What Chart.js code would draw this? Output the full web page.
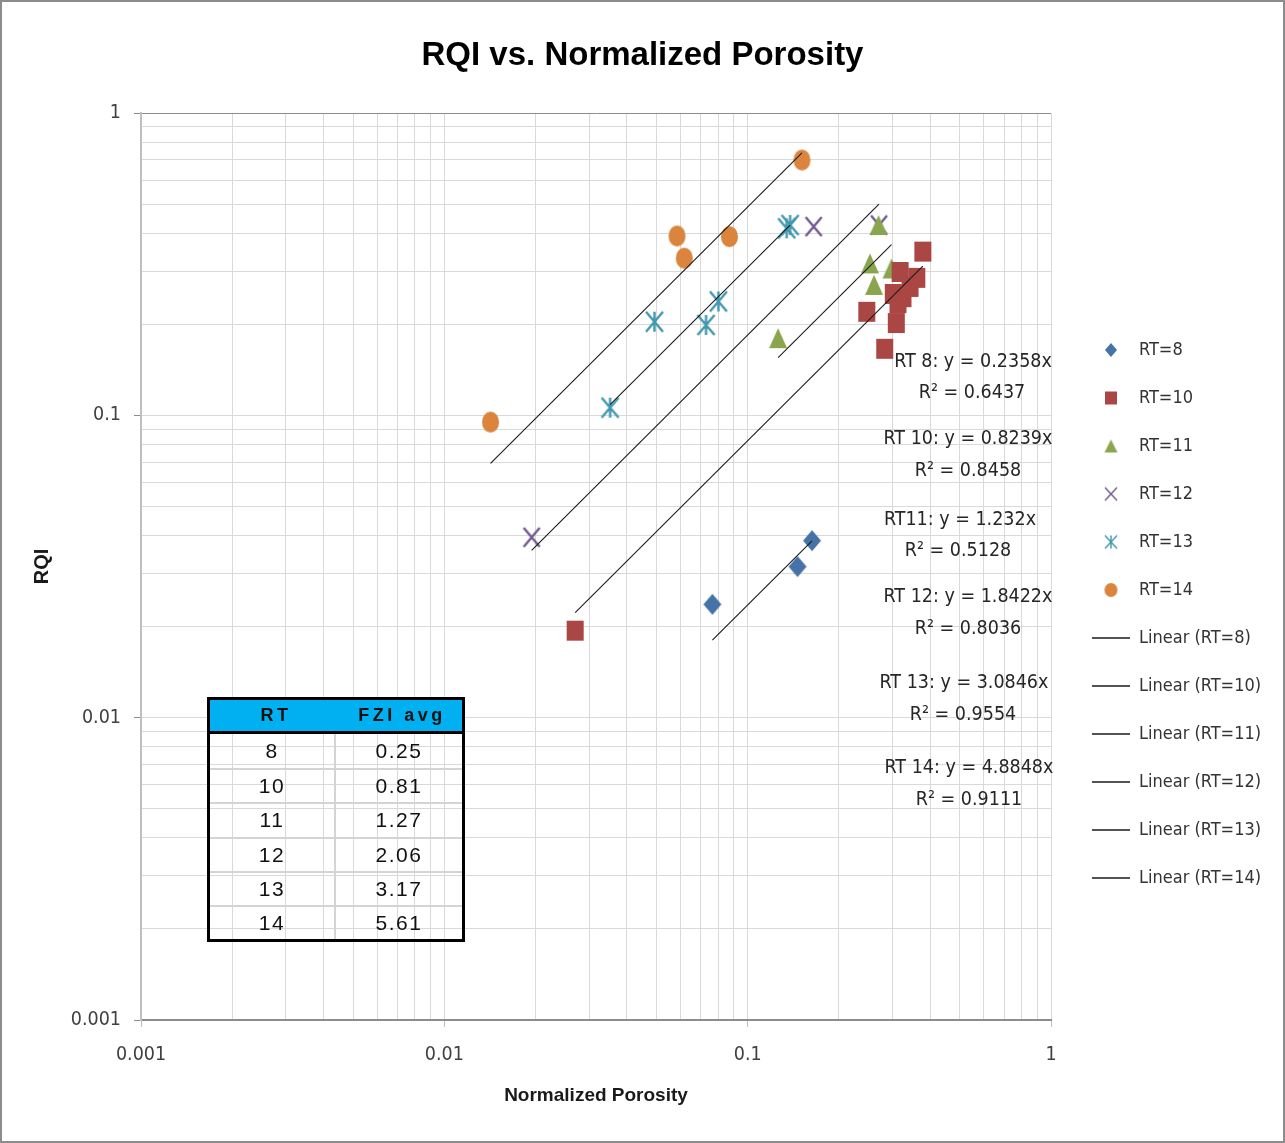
<!DOCTYPE html>
<html>
<head>
<meta charset="utf-8">
<title>RQI vs. Normalized Porosity</title>
<script src="https://cdn.jsdelivr.net/npm/chart.js@4.4.1/dist/chart.umd.min.js"></script>
<style>
  html, body { margin: 0; padding: 0; background: #fff; overflow: hidden; }
  #wrap { position: relative; width: 1285px; height: 1143px; }
  #chart { position: absolute; left: 0; top: 0; }
  #frame { position: absolute; left: 0; top: 0; width: 1285px; height: 1143px; box-sizing: border-box;
           border: 2px solid #8c8c8c; pointer-events: none; }
  #fzi { position: absolute; left: 207px; top: 697px; width: 258px; height: 245px; box-sizing: border-box;
         border: 3px solid #000; font-family: "Liberation Sans", Arial, sans-serif; color: #111; }
  #fzi .row { display: flex; height: 34.2px; box-sizing: border-box; }
  #fzi .row + .row { border-top: 2px solid #d4d4d4; }
  #fzi .row div { display: flex; align-items: center; justify-content: center; font-size: 21px; letter-spacing: 1.5px; }
  #fzi .row div:first-child { width: 124px; }
  #fzi .row div:last-child { flex: 1; border-left: 2px solid #d4d4d4; }
  #fzi .head { display: flex; height: 34px; background: #00b0f0; border-bottom: 3px solid #000; box-sizing: border-box; }
  #fzi .head div { display: flex; align-items: center; justify-content: center; font-weight: bold; font-size: 18px;
                   letter-spacing: 3.5px; padding-left: 3px; }
  #fzi .head div:first-child { width: 126px; }
  #fzi .head div:last-child { flex: 1; }
</style>
</head>
<body>
<div id="wrap">
  <canvas id="chart" width="1285" height="1143"></canvas>
  <div id="fzi"></div>
  <div id="frame"></div>
</div>
<script>
// measured points per rock type (normalized porosity, RQI)
const seriesNames = ['RT=8', 'RT=10', 'RT=11', 'RT=12', 'RT=13', 'RT=14'];

const rt8X = [0.0765, 0.146, 0.163];
const rt8Y = [0.0237, 0.0316, 0.0385];

const rt10X = [0.0270, 0.247, 0.283, 0.309, 0.378, 0.302, 0.318, 0.325, 0.343, 0.361, 0.313];
const rt10Y = [0.0194, 0.220, 0.166, 0.202, 0.348, 0.252, 0.298, 0.246, 0.266, 0.285, 0.235];

const rt11X = [0.126, 0.270, 0.253, 0.298, 0.261];
const rt11Y = [0.180, 0.426, 0.318, 0.306, 0.270];

const rt12X = [0.0194, 0.165, 0.271];
const rt12Y = [0.0395, 0.421, 0.426];

const rt13X = [0.0352, 0.0493, 0.0729, 0.0801, 0.1345, 0.138];
const rt13Y = [0.106, 0.204, 0.199, 0.238, 0.4155, 0.426];

const rt14X = [0.0142, 0.0585, 0.0618, 0.0871, 0.151];
const rt14Y = [0.095, 0.392, 0.331, 0.390, 0.699];

// linear fits through the origin
const trendTags = ['RT 8', 'RT 10', 'RT11', 'RT 12', 'RT 13', 'RT 14'];
const trendSlopes = [0.2358, 0.8239, 1.232, 1.8422, 3.0846, 4.8848];
const trendR2 = ['0.6437', '0.8458', '0.5128', '0.8036', '0.9554', '0.9111'];

const xTickLabels = ['0.001', '0.01', '0.1', '1'];
const yTickLabels = ['0.001', '0.01', '0.1', '1'];
const decades = [0.001, 0.01, 0.1];
const minorSteps = [1, 2, 3, 4, 5, 6, 7, 8, 9];

// FZI summary table
const tableRt = [8, 10, 11, 12, 13, 14];
const tableFzi = ['0.25', '0.81', '1.27', '2.06', '3.17', '5.61'];

const seriesX = [rt8X, rt10X, rt11X, rt12X, rt13X, rt14X];
const seriesY = [rt8Y, rt10Y, rt11Y, rt12Y, rt13Y, rt14Y];
const seriesColors = ['#4572a7', '#aa4643', '#89a54e', '#71588f', '#4198af', '#db843d'];
const seriesShapes = ['diamond', 'square', 'triangle', 'cross', 'asterisk', 'circle'];

const NARROW = '"DejaVu Sans Condensed", "Liberation Sans", sans-serif';
const WIDE = '"Liberation Sans", Arial, sans-serif';

// plot box edges and legend geometry
const PLOT_LEFT = 141;
const PLOT_RIGHT = 1051;
const CANVAS_W = 1285;
const LEGEND_FONT = 18;
const LEGEND_PAD = 30;
const LEGEND_LINE = 38;
const LEGEND_X = 1092;

function markerSprite(shape, w, h, color, lw) {
  const pad = 2;
  const c = document.createElement('canvas');
  c.width = w + pad * 2;
  c.height = h + pad * 2;
  const g = c.getContext('2d');
  g.translate(pad, pad);
  g.fillStyle = color;
  g.strokeStyle = color;
  g.lineWidth = lw;
  g.beginPath();
  if (shape === 'diamond') {
    g.moveTo(w / 2, 0); g.lineTo(w, h / 2); g.lineTo(w / 2, h); g.lineTo(0, h / 2);
    g.closePath(); g.fill();
  } else if (shape === 'square') {
    g.rect(0, 0, w, h); g.fill();
  } else if (shape === 'triangle') {
    g.moveTo(w / 2, 0); g.lineTo(w, h); g.lineTo(0, h);
    g.closePath(); g.fill();
  } else if (shape === 'circle') {
    g.ellipse(w / 2, h / 2, w / 2, h / 2, 0, 0, Math.PI * 2); g.fill();
  } else {
    g.moveTo(0, 0); g.lineTo(w, h); g.moveTo(w, 0); g.lineTo(0, h);
    if (shape === 'asterisk') { g.moveTo(w / 2, 0); g.lineTo(w / 2, h); }
    g.stroke();
  }
  return c;
}

const plotSize = { diamond: [18, 21], square: [17, 20], triangle: [18, 20], cross: [16, 19], asterisk: [17, 20], circle: [17, 21] };
const legendSize = { diamond: [12, 14], square: [12, 13], triangle: [13, 13], cross: [12, 13], asterisk: [12, 13], circle: [13, 14] };

function isDecade(v) {
  const e = Math.log10(v);
  return Math.abs(e - Math.round(e)) < 1e-6;
}
function decadeLabel(v, labels) {
  return isDecade(v) ? labels[Math.round(Math.log10(v)) + 3] : '';
}

const tickValues = [];
decades.forEach(d => minorSteps.forEach(m => tickValues.push(Number((d * m).toPrecision(6)))));
tickValues.push(1);

function setTicks(scale) {
  scale.ticks = tickValues.map(v => ({ value: v, major: isDecade(v) }));
}

const datasets = [];
seriesNames.forEach((name, i) => {
  const shape = seriesShapes[i];
  const lw = shape === 'asterisk' || shape === 'cross' ? 2.4 : 1;
  datasets.push({
    label: name,
    data: seriesX[i].map((x, k) => ({ x: x, y: seriesY[i][k] })),
    pointStyle: markerSprite(shape, plotSize[shape][0], plotSize[shape][1], seriesColors[i], lw),
    legendMarker: markerSprite(shape, legendSize[shape][0], legendSize[shape][1], seriesColors[i], 1.4),
    pointRadius: 9,
    backgroundColor: seriesColors[i],
    borderColor: seriesColors[i],
    order: 2
  });
});
seriesNames.forEach((name, i) => {
  const xs = seriesX[i];
  const lo = Math.min.apply(null, xs);
  const hi = Math.max.apply(null, xs);
  datasets.push({
    label: 'Linear (' + name + ')',
    data: [{ x: lo, y: trendSlopes[i] * lo }, { x: hi, y: trendSlopes[i] * hi }],
    showLine: true,
    pointRadius: 0,
    borderColor: '#1a1a1a',
    borderWidth: 1.1,
    backgroundColor: '#1a1a1a',
    legendMarker: 'line',
    order: 1
  });
});

// legend width is worked out the same way Chart.js does, so the side
// padding and the spacer axis keep the plot box where it belongs
const meter = document.createElement('canvas').getContext('2d');
meter.font = LEGEND_FONT + 'px ' + NARROW;
const widestLabel = Math.max.apply(null, datasets.map(d => meter.measureText(d.label).width));
const legendWidth = LEGEND_PAD + LEGEND_LINE + LEGEND_FONT / 2 + widestLabel + 10;
const sidePad = Math.max(0, (CANVAS_W - PLOT_RIGHT) - (LEGEND_X - LEGEND_PAD - PLOT_RIGHT) - legendWidth);
const spacerWidth = CANVAS_W - PLOT_RIGHT - sidePad - legendWidth;

// trendline equation labels
const eqAnchor = [
  [973, 362, 972, 393], [968, 439, 968, 471], [960, 520, 958, 551],
  [968, 597, 968, 629], [964, 683, 963, 715], [969, 768, 969, 800]
];
const eqLabels = {
  id: 'eqLabels',
  afterDatasetsDraw(chart) {
    const ctx = chart.ctx;
    ctx.save();
    ctx.font = '19.5px ' + NARROW;
    ctx.fillStyle = '#262626';
    ctx.textAlign = 'center';
    ctx.textBaseline = 'middle';
    trendTags.forEach((tag, i) => {
      const a = eqAnchor[i];
      ctx.fillText(tag + ': y = ' + trendSlopes[i] + 'x', a[0], a[1]);
      ctx.fillText('R\u00b2 = ' + trendR2[i], a[2], a[3]);
    });
    ctx.restore();
  }
};

new Chart(document.getElementById('chart'), {
  type: 'scatter',
  data: { datasets: datasets },
  plugins: [eqLabels],
  options: {
    responsive: false,
    animation: false,
    devicePixelRatio: 1,
    layout: { padding: { left: sidePad, top: 0, right: sidePad, bottom: 0 } },
    scales: {
      x: {
        type: 'logarithmic',
        min: 0.001,
        max: 1,
        afterBuildTicks: setTicks,
        afterFit(scale) { scale.height = 123; },
        grid: {
          color: '#d9d9d9',
          tickLength: 7,
          tickColor: c => (c.tick && isDecade(c.tick.value) ? '#bfbfbf' : 'rgba(0,0,0,0)')
        },
        border: { color: '#8c8c8c', width: 2 },
        ticks: {
          autoSkip: false,
          maxRotation: 0,
          padding: 16,
          color: '#404040',
          font: { family: NARROW, size: 19.5 },
          callback: v => decadeLabel(v, xTickLabels)
        },
        title: {
          display: true,
          text: 'Normalized Porosity',
          color: '#1a1a1a',
          font: { family: WIDE, size: 19, weight: 'bold' },
          padding: { top: 0, bottom: 35.6 }
        }
      },
      y: {
        type: 'logarithmic',
        min: 0.001,
        max: 1,
        afterBuildTicks: setTicks,
        afterFit(scale) { scale.width = PLOT_LEFT - sidePad; },
        grid: {
          color: c => (c.tick && c.tick.value === 1 ? '#8c8c8c' : '#d9d9d9'),
          tickLength: 7,
          tickColor: c => (c.tick && isDecade(c.tick.value) ? '#8c8c8c' : 'rgba(0,0,0,0)')
        },
        border: { color: '#bfbfbf', width: 2 },
        ticks: {
          autoSkip: false,
          padding: 13,
          color: '#404040',
          font: { family: NARROW, size: 19.5 },
          callback: v => decadeLabel(v, yTickLabels)
        },
        title: {
          display: true,
          text: 'RQI',
          color: '#1a1a1a',
          font: { family: WIDE, size: 20, weight: 'bold' },
          padding: { top: 30.5 - sidePad, bottom: 0 }
        }
      },
      spacer: {
        type: 'linear',
        position: 'right',
        display: true,
        afterFit(scale) { scale.width = spacerWidth; },
        grid: { display: false, drawTicks: false },
        border: { display: false },
        ticks: { display: false }
      }
    },
    plugins: {
      title: {
        display: true,
        text: 'RQI vs. Normalized Porosity',
        color: '#000',
        font: { family: WIDE, size: 33, weight: 'bold' },
        padding: { top: 36, bottom: 37.4 }
      },
      legend: {
        position: 'right',
        title: { display: true, text: ' ', font: { size: 12 }, padding: { top: 0, bottom: 70.6 } },
        labels: {
          usePointStyle: true,
          pointStyleWidth: LEGEND_LINE,
          boxHeight: 11,
          padding: LEGEND_PAD,
          color: '#333',
          font: { family: NARROW, size: LEGEND_FONT },
          sort: (a, b) => a.datasetIndex - b.datasetIndex,
          generateLabels(chart) {
            const items = Chart.defaults.plugins.legend.labels.generateLabels(chart);
            items.forEach(item => {
              const ds = chart.data.datasets[item.datasetIndex];
              item.pointStyle = ds.legendMarker;
              if (ds.legendMarker === 'line') {
                item.strokeStyle = '#1a1a1a';
                item.lineWidth = 1.5;
              }
            });
            return items;
          }
        }
      },
      tooltip: { enabled: false }
    }
  }
});

// FZI summary table drawn over the plot
const table = document.getElementById('fzi');
const head = document.createElement('div');
head.className = 'head';
head.innerHTML = '<div>RT</div><div>FZI avg</div>';
table.appendChild(head);
tableRt.forEach((rt, i) => {
  const row = document.createElement('div');
  row.className = 'row';
  const a = document.createElement('div');
  a.textContent = rt;
  const b = document.createElement('div');
  b.textContent = tableFzi[i];
  row.appendChild(a);
  row.appendChild(b);
  table.appendChild(row);
});
</script>
</body>
</html>
